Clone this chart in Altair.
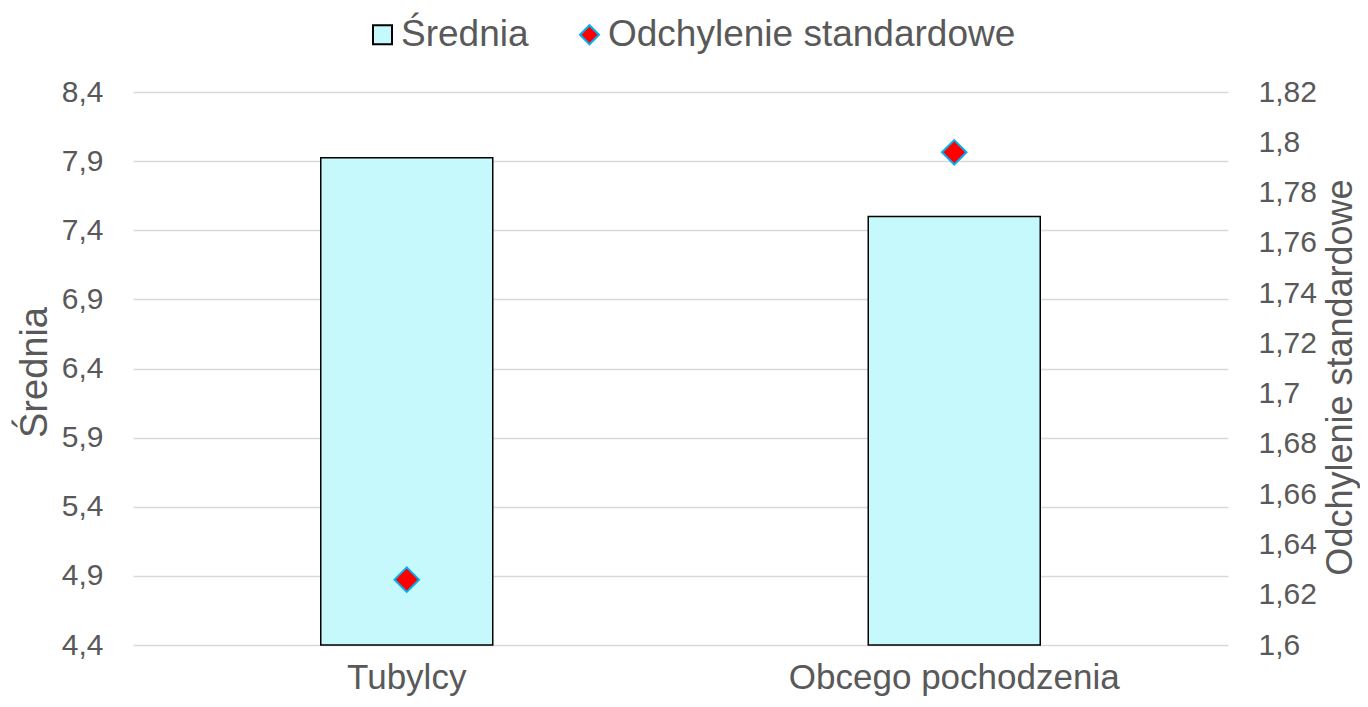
import altair as alt
import pandas as pd

categories = ["Tubylcy", "Obcego pochodzenia"]
srednia = [7.925, 7.50]
odchylenie = [1.626, 1.796]
left_ticks = [4.4, 4.9, 5.4, 5.9, 6.4, 6.9, 7.4, 7.9, 8.4]
right_ticks = [1.6, 1.62, 1.64, 1.66, 1.68, 1.7, 1.72, 1.74, 1.76, 1.78, 1.8, 1.82]
series_names = ["Średnia", "Odchylenie standardowe"]

df = pd.DataFrame({"kategoria": categories, "srednia": srednia, "odchylenie": odchylenie})

FONT = "Liberation Sans"
TXT = "#595959"

x_enc = alt.X(
    "kategoria:N",
    sort=categories,
    scale=alt.Scale(paddingInner=0, paddingOuter=0),
    axis=alt.Axis(title=None, labelAngle=0, labelFontSize=35, labelColor=TXT, labelFont=FONT,
                  domain=False, ticks=False, labelPadding=15, grid=False, labelLimit=600),
)

fill_scale = alt.Scale(domain=series_names, range=["#c6f9fb", "#ff0000"])
stroke_scale = alt.Scale(domain=series_names, range=["#000000", "#00b0f0"])
shape_scale = alt.Scale(domain=series_names, range=["square", "diamond"])

legend = alt.Legend(title=None, orient="none", direction="horizontal", legendX=231, legendY=-76,
                    labelFontSize=37, labelFont=FONT, labelColor=TXT, symbolSize=361,
                    symbolStrokeWidth=2, columnPadding=42, labelOffset=0, labelLimit=800)

bars = alt.Chart(df).transform_calculate(serie="'Średnia'").mark_bar(size=172, strokeWidth=1.5).encode(
    x=x_enc,
    y=alt.Y("srednia:Q",
            scale=alt.Scale(domain=[4.4, 8.4], zero=False, nice=False, clamp=True),
            axis=alt.Axis(title="Średnia", values=left_ticks,
                          labelExpr="replace(format(datum.value, '.1f'), '.', ',')",
                          labelFontSize=30, labelFont=FONT, labelColor=TXT, labelPadding=30,
                          domain=False, ticks=False, grid=True, gridColor="#d9d9d9", gridWidth=1.3,
                          titleFontSize=38, titleFont=FONT, titleColor=TXT, titleFontWeight="normal",
                          titleX=-98, titleY=280, titleAngle=-90, titleAlign="center",
                          titleBaseline="middle", titleLimit=800)),
    fill=alt.Fill("serie:N", scale=fill_scale, legend=legend),
    stroke=alt.Stroke("serie:N", scale=stroke_scale, legend=legend),
)

points = alt.Chart(df).transform_calculate(serie="'Odchylenie standardowe'").mark_point(
    size=600, strokeWidth=2, opacity=1, fillOpacity=1, strokeOpacity=1).encode(
    x=x_enc,
    y=alt.Y("odchylenie:Q",
            scale=alt.Scale(domain=[1.6, 1.82], zero=False, nice=False),
            axis=alt.Axis(orient="right", title="Odchylenie standardowe", values=right_ticks,
                          labelExpr="replace(toString(round(datum.value * 100) / 100), '.', ',')",
                          labelFontSize=30, labelFont=FONT, labelColor=TXT, labelPadding=30,
                          domain=False, ticks=False, grid=False,
                          titleFontSize=36, titleFont=FONT, titleColor=TXT, titleFontWeight="normal",
                          titleX=112, titleY=285, titleAngle=-90, titleAlign="center",
                          titleBaseline="middle", titleLimit=800)),
    fill=alt.Fill("serie:N", scale=fill_scale, legend=legend),
    stroke=alt.Stroke("serie:N", scale=stroke_scale, legend=legend),
    shape=alt.Shape("serie:N", scale=shape_scale, legend=legend),
)

chart = alt.layer(bars, points).resolve_scale(y="independent").properties(
    width=1095, height=553,
    padding={"left": 125, "top": 84, "right": 132, "bottom": 54},
    autosize=alt.AutoSizeParams(type="none"),
).configure_view(stroke=None)

chart.save("out.html", embed_options={"renderer": "svg", "actions": False})
